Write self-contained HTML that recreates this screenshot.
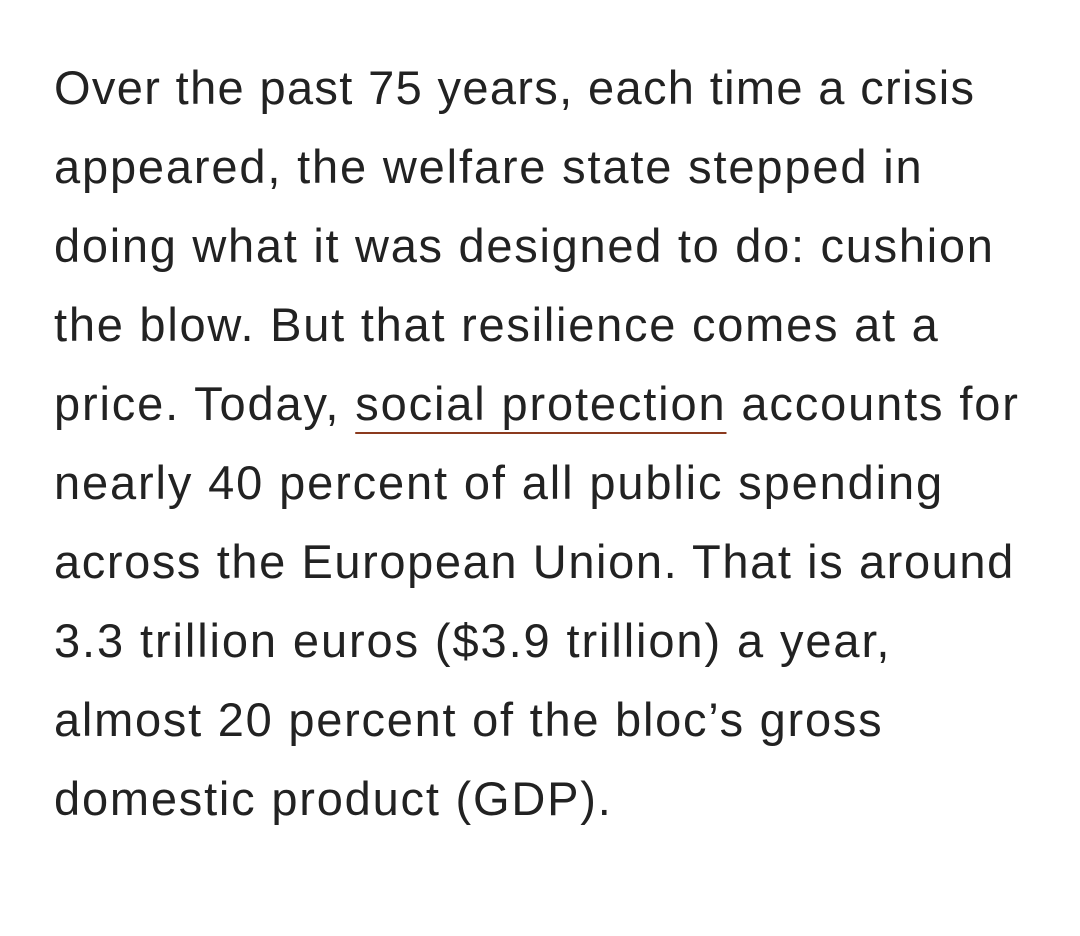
<!DOCTYPE html>
<html><head><meta charset="utf-8"><style>
html,body{margin:0;padding:0;background:#fff;width:1080px;height:936px;overflow:hidden}
.t{position:absolute;left:54px;top:48px;font-family:"Liberation Sans",sans-serif;font-size:47px;line-height:79px;color:#222;white-space:nowrap;letter-spacing:1.3px}
.t div{height:79px}
.u{text-decoration:underline;text-decoration-color:#8b3a1e;text-decoration-thickness:2px;text-underline-offset:12px}
</style></head><body>
<div class="t">
<div style="letter-spacing:1.35px">Over the past 75 years, each time a crisis</div>
<div style="letter-spacing:1.84px">appeared, the welfare state stepped in</div>
<div style="letter-spacing:1.72px">doing what it was designed to do: cushion</div>
<div style="letter-spacing:1.76px">the blow. But that resilience comes at a</div>
<div style="letter-spacing:1.86px">price. Today, <span class="u">social protection</span> accounts for</div>
<div style="letter-spacing:1.87px">nearly 40 percent of all public spending</div>
<div style="letter-spacing:1.6px">across the European Union. That is around</div>
<div style="letter-spacing:1.9px">3.3 trillion euros ($3.9 trillion) a year,</div>
<div style="letter-spacing:1.75px">almost 20 percent of the bloc’s gross</div>
<div style="letter-spacing:1.8px">domestic product (GDP).</div>
</div>
</body></html>
